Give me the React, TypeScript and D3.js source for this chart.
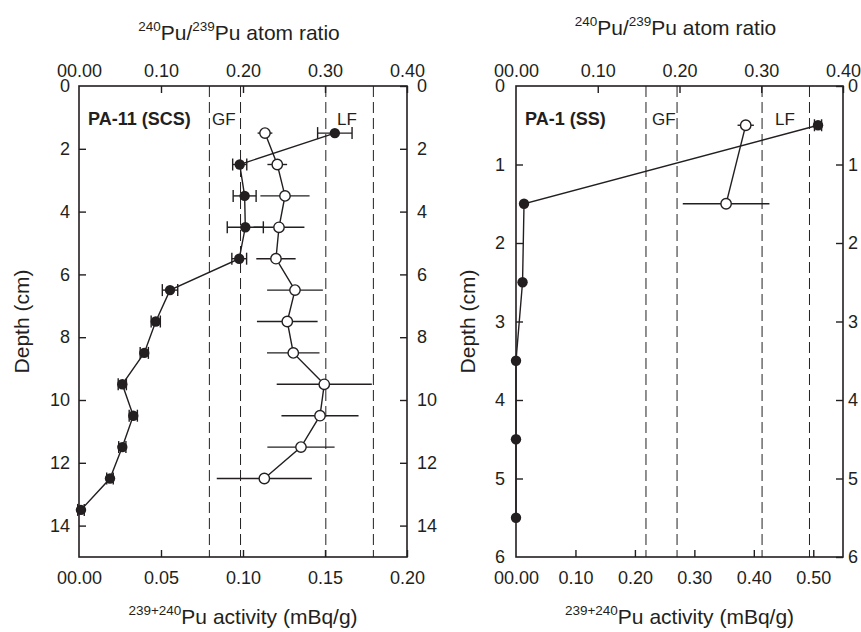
import React, { useRef, useEffect } from "react";
import * as d3 from "d3";

// ---- PA-11 (SCS) ----
const depthA = [1.5, 2.5, 3.5, 4.5, 5.5, 6.5, 7.5, 8.5, 9.5, 10.5, 11.5, 12.5, 13.5];
const activityA = [0.156, 0.098, 0.101, 0.1014, 0.0977, 0.0555, 0.0468, 0.0398, 0.0264, 0.0331, 0.0264, 0.0189, 0.0012];
const activityErrA = [0.0105, 0.0043, 0.007, 0.011, 0.0045, 0.0047, 0.0028, 0.0025, 0.0025, 0.0025, 0.0022, 0.002, 0.002];
const ratioDepthA = [1.5, 2.5, 3.5, 4.5, 5.5, 6.5, 7.5, 8.5, 9.5, 10.5, 11.5, 12.5];
const ratioA = [0.2268, 0.2418, 0.2512, 0.2439, 0.2402, 0.2634, 0.254, 0.2613, 0.2991, 0.2939, 0.2707, 0.226];
const ratioErrA = [0.009, 0.012, 0.03, 0.031, 0.024, 0.034, 0.037, 0.032, 0.058, 0.047, 0.041, 0.058];

// ---- PA-1 (SS) ----
const depthB = [0.5, 1.5, 2.5, 3.5, 4.5, 5.5];
const activityB = [0.508, 0.0135, 0.011, 0, 0, 0];
const activityErrB = [0.006, 0, 0, 0, 0, 0];
const ratioDepthB = [0.5, 1.5];
const ratioB = [0.281, 0.257];
const ratioErrB = [0.01, 0.053];

// GF / LF bounds, atom ratio units
const fallout = [0.159, 0.197, 0.301, 0.359];

const ratioTicks = [0, 0.1, 0.2, 0.3, 0.4];
const ratioTickLabels = ["00.00", "0.10", "0.20", "0.30", "0.40"];
const actTicksA = [0, 0.05, 0.1, 0.15, 0.2];
const actTickLabelsA = ["00.00", "0.05", "0.10", "0.15", "0.20"];
const actTicksB = [0, 0.1, 0.2, 0.3, 0.4, 0.5];
const actTickLabelsB = ["00.00", "0.10", "0.20", "0.30", "0.40", "0.50"];
const depthTicksA = [0, 2, 4, 6, 8, 10, 12, 14];
const depthTicksB = [0, 1, 2, 3, 4, 5, 6];

const FONT = "'Liberation Sans', Arial, sans-serif";
const INK = "#231f20";

const panels = [
  {
    name: "PA-11 (SCS)",
    x0: 79, x1: 407, y0: 86, y1: 557,
    actMax: 0.2, depthMax: 15, ratioMax: 0.4,
    depth: depthA, act: activityA, actErr: activityErrA,
    rDepth: ratioDepthA, ratio: ratioA, ratioErr: ratioErrA,
    actTicks: actTicksA, actLabels: actTickLabelsA, depthTicks: depthTicksA,
    titleY: 40, depthLabelX: 29, gfX: 212, lfX: 337,
    padL: 9, padR: 10,
  },
  {
    name: "PA-1 (SS)",
    x0: 516, x1: 843, y0: 86, y1: 557,
    actMax: 0.55, depthMax: 6, ratioMax: 0.4,
    depth: depthB, act: activityB, actErr: activityErrB,
    rDepth: ratioDepthB, ratio: ratioB, ratioErr: ratioErrB,
    actTicks: actTicksB, actLabels: actTickLabelsB, depthTicks: depthTicksB,
    titleY: 35, depthLabelX: 475, gfX: 652, lfX: 775,
    padL: 11, padR: 5,
  },
];

const App = () => {
  const svgRef = useRef(null);

  useEffect(() => {
    document.body.style.margin = "0";
    const svg = d3.select(svgRef.current);
    svg.selectAll("*").remove();

    panels.forEach((p) => {
      const g = svg.append("g");
      const xAct = d3.scaleLinear().domain([0, p.actMax]).range([p.x0, p.x1]);
      const xRat = d3.scaleLinear().domain([0, p.ratioMax]).range([p.x0, p.x1]);
      const y = d3.scaleLinear().domain([0, p.depthMax]).range([p.y0, p.y1]);
      const cx = (p.x0 + p.x1) / 2;

      // dashed GF/LF lines
      g.selectAll(".ff")
        .data(fallout)
        .enter()
        .append("line")
        .attr("x1", (d) => xRat(d))
        .attr("x2", (d) => xRat(d))
        .attr("y1", p.y0)
        .attr("y2", p.y1)
        .attr("stroke", INK)
        .attr("stroke-width", 1)
        .attr("stroke-dasharray", "11,5");

      // frame
      g.append("rect")
        .attr("x", p.x0)
        .attr("y", p.y0)
        .attr("width", p.x1 - p.x0)
        .attr("height", p.y1 - p.y0)
        .attr("fill", "none")
        .attr("stroke", INK)
        .attr("stroke-width", 1.6);

      // bottom axis (activity)
      const bottom = g.append("g").attr("transform", `translate(0,${p.y1})`);
      bottom.call(
        d3.axisBottom(xAct)
          .tickValues(p.actTicks)
          .tickFormat((d, i) => p.actLabels[i])
          .tickSizeInner(-7)
          .tickSizeOuter(0)
          .tickPadding(14)
      );

      // top axis (ratio)
      const top = g.append("g").attr("transform", `translate(0,${p.y0})`);
      top.call(
        d3.axisTop(xRat)
          .tickValues(ratioTicks)
          .tickFormat((d, i) => ratioTickLabels[i])
          .tickSizeInner(-7)
          .tickSizeOuter(0)
          .tickPadding(9)
      );

      // left and right depth axes
      const left = g.append("g").attr("transform", `translate(${p.x0},0)`);
      left.call(
        d3.axisLeft(y)
          .tickValues(p.depthTicks)
          .tickFormat(d3.format("d"))
          .tickSizeInner(-7)
          .tickSizeOuter(0)
          .tickPadding(p.padL)
      );
      const right = g.append("g").attr("transform", `translate(${p.x1},0)`);
      right.call(
        d3.axisRight(y)
          .tickValues(p.depthTicks)
          .tickFormat(d3.format("d"))
          .tickSizeInner(-7)
          .tickSizeOuter(0)
          .tickPadding(p.padR)
      );

      [bottom, top, left, right].forEach((a) => {
        a.select(".domain").remove();
        a.selectAll(".tick line").attr("stroke", INK).attr("stroke-width", 1.4);
        a.selectAll(".tick text")
          .attr("fill", INK)
          .style("font-family", FONT)
          .style("font-size", "18px");
      });
      // hide ticks at frame corners
      top.selectAll(".tick line").filter((d) => d === 0).remove();
      bottom.selectAll(".tick line").filter((d) => d === 0).remove();
      left.selectAll(".tick line").filter((d) => d === 0 || d === p.depthMax).remove();

      // ratio series (open circles)
      const rPts = p.ratio.map((v, i) => ({ v, d: p.rDepth[i], e: p.ratioErr[i] }));
      g.selectAll(".rerr")
        .data(rPts)
        .enter()
        .append("line")
        .attr("x1", (d) => xRat(d.v - d.e))
        .attr("x2", (d) => xRat(d.v + d.e))
        .attr("y1", (d) => y(d.d))
        .attr("y2", (d) => y(d.d))
        .attr("stroke", INK)
        .attr("stroke-width", 1.4);
      g.append("path")
        .datum(rPts)
        .attr("fill", "none")
        .attr("stroke", INK)
        .attr("stroke-width", 1.4)
        .attr("d", d3.line().x((d) => xRat(d.v)).y((d) => y(d.d)));

      // activity series (filled circles)
      const aPts = p.act.map((v, i) => ({ v, d: p.depth[i], e: p.actErr[i] }));
      g.append("path")
        .datum(aPts)
        .attr("fill", "none")
        .attr("stroke", INK)
        .attr("stroke-width", 1.4)
        .attr("d", d3.line().x((d) => xAct(d.v)).y((d) => y(d.d)));
      const eb = g.selectAll(".aerr").data(aPts.filter((d) => d.e > 0)).enter().append("g");
      eb.append("line")
        .attr("x1", (d) => xAct(d.v - d.e))
        .attr("x2", (d) => xAct(d.v + d.e))
        .attr("y1", (d) => y(d.d))
        .attr("y2", (d) => y(d.d))
        .attr("stroke", INK)
        .attr("stroke-width", 1.4);
      [-1, 1].forEach((s) => {
        eb.append("line")
          .attr("x1", (d) => xAct(d.v + s * d.e))
          .attr("x2", (d) => xAct(d.v + s * d.e))
          .attr("y1", (d) => y(d.d) - 6)
          .attr("y2", (d) => y(d.d) + 6)
          .attr("stroke", INK)
          .attr("stroke-width", 1.4);
      });
      g.selectAll(".adot")
        .data(aPts)
        .enter()
        .append("circle")
        .attr("cx", (d) => xAct(d.v))
        .attr("cy", (d) => y(d.d))
        .attr("r", 5.2)
        .attr("fill", INK);

      g.selectAll(".rdot")
        .data(rPts)
        .enter()
        .append("circle")
        .attr("cx", (d) => xRat(d.v))
        .attr("cy", (d) => y(d.d))
        .attr("r", 5.2)
        .attr("fill", "white")
        .attr("stroke", INK)
        .attr("stroke-width", 1.4);

      const txt = (x, yy, s, size = 18, weight = "normal") =>
        g.append("text")
          .attr("x", x)
          .attr("y", yy)
          .attr("fill", INK)
          .style("font-family", FONT)
          .style("font-size", `${size}px`)
          .style("font-weight", weight)
          .text(s);

      txt(p.x0 + 9, 125, p.name, 18, "bold");
      txt(p.gfX, 125, "GF", 17);
      txt(p.lfX, 125, "LF", 17);

      // top title
      const t = g.append("text")
        .attr("x", cx - 4)
        .attr("y", p.titleY)
        .attr("text-anchor", "middle")
        .attr("fill", INK)
        .style("font-family", FONT)
        .style("font-size", "21px");
      t.append("tspan").attr("dy", -9).style("font-size", "13.5px").text("240");
      t.append("tspan").attr("dy", 9).text("Pu/");
      t.append("tspan").attr("dy", -9).style("font-size", "13.5px").text("239");
      t.append("tspan").attr("dy", 9).text("Pu atom ratio");

      // bottom title
      const b = g.append("text")
        .attr("x", cx)
        .attr("y", 624)
        .attr("text-anchor", "middle")
        .attr("fill", INK)
        .style("font-family", FONT)
        .style("font-size", "21px");
      b.append("tspan").attr("dy", -9).style("font-size", "13.5px").text("239+240");
      b.append("tspan").attr("dy", 9).text("Pu activity (mBq/g)");

      // depth label
      g.append("text")
        .attr("transform", `translate(${p.depthLabelX},${(p.y0 + p.y1) / 2}) rotate(-90)`)
        .attr("text-anchor", "middle")
        .attr("fill", INK)
        .style("font-family", FONT)
        .style("font-size", "21px")
        .text("Depth (cm)");
    });
  }, []);

  return <svg ref={svgRef} width={861} height={632} style={{ display: "block", background: "white" }} />;
};

export default App;
